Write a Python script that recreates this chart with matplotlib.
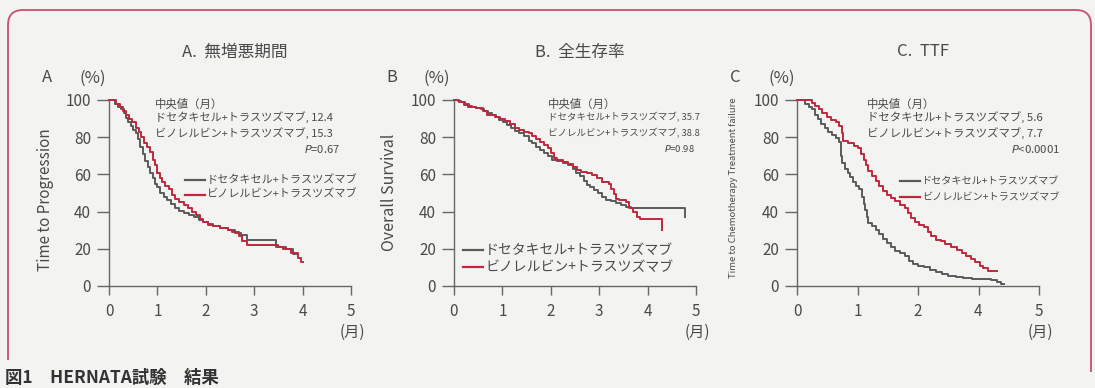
import matplotlib
matplotlib.use("Agg")
import matplotlib.pyplot as plt
from matplotlib.lines import Line2D
from matplotlib.path import Path
from matplotlib.patches import PathPatch

plt.rcParams['font.family'] = ['Noto Sans CJK JP', 'DejaVu Sans']

W, H = 1095, 388
BG = '#f3f3f1'
GRAY = '#5a5a5a'
RED = '#c0283c'
TXT = '#4a4a4a'

# ---- data ----
a_doc_t = [0, 0.12, 0.18, 0.24, 0.30, 0.35, 0.40, 0.45, 0.50, 0.55, 0.60, 0.65, 0.70, 0.75,
           0.80, 0.85, 0.90, 0.95, 1.00, 1.06, 1.13, 1.20, 1.28, 1.36, 1.45, 1.55, 1.65, 1.75,
           1.85, 1.95, 2.05, 2.15, 2.30, 2.45, 2.60, 2.72, 2.85, 3.46, 3.65, 3.80, 3.88]
a_doc_s = [100, 98, 96, 95, 93, 90.5, 88, 86, 84, 82, 79, 75, 71, 67,
           64, 61, 58, 55, 53, 50, 48, 46, 44, 42, 40.5, 39, 38, 37,
           35.5, 34.5, 33.5, 32.5, 31, 30, 28.5, 27.5, 25, 21, 20, 17, 17]
a_vin_t = [0, 0.15, 0.22, 0.28, 0.36, 0.42, 0.48, 0.55, 0.61, 0.66, 0.72, 0.78, 0.84, 0.90,
           0.95, 1.00, 1.05, 1.10, 1.16, 1.24, 1.30, 1.36, 1.45, 1.55, 1.64, 1.72, 1.80, 1.87,
           1.95, 2.05, 2.15, 2.30, 2.45, 2.55, 2.68, 2.75, 2.85, 3.50, 3.60, 3.75, 3.90, 3.97, 4.00]
a_vin_s = [100, 98, 96, 94, 92, 90, 88, 85, 83, 80, 77, 75, 72, 68,
           65, 61, 58, 56, 54, 52, 49, 47, 45, 43.5, 42, 40, 38, 36,
           34.5, 33, 32, 31, 30, 29, 27, 24, 22, 21, 20, 18, 15, 13, 13]

b_doc_t = [0, 0.08, 0.15, 0.22, 0.30, 0.38, 0.45, 0.55, 0.62, 0.70, 0.78, 0.86, 0.94, 1.02,
           1.10, 1.18, 1.26, 1.34, 1.45, 1.55, 1.62, 1.70, 1.78, 1.86, 1.95, 2.03, 2.12, 2.25,
           2.35, 2.45, 2.52, 2.60, 2.68, 2.75, 2.82, 2.90, 2.98, 3.06, 3.15, 3.25, 3.35, 3.45,
           3.55, 3.65, 4.78, 4.78]
b_doc_s = [100, 99.5, 99, 98, 97, 96.5, 95.5, 95, 94, 93, 92, 91, 89.5, 88,
           86.5, 85, 83.5, 82, 80.5, 78, 77, 75, 73, 71.5, 70, 68, 67, 66,
           65, 63, 61, 59, 56.5, 54.5, 53, 51.5, 50, 48, 46.5, 45.5, 44.5, 43.5,
           42.5, 42, 42, 37]
b_vin_t = [0, 0.10, 0.20, 0.28, 0.45, 0.60, 0.68, 0.85, 0.95, 1.05, 1.15, 1.25, 1.35, 1.45,
           1.55, 1.62, 1.70, 1.78, 1.86, 1.94, 2.00, 2.06, 2.12, 2.25, 2.35, 2.45, 2.55, 2.62,
           2.75, 2.85, 2.95, 3.05, 3.20, 3.25, 3.30, 3.35, 3.40, 3.55, 3.62, 3.70, 3.78, 3.85, 4.30]
b_vin_s = [100, 99, 97.5, 96, 95.5, 94, 92, 91, 90, 88.5, 87, 85, 84, 83,
           82, 80.5, 79, 77.5, 76, 74, 71.5, 69, 67.5, 66.5, 65.5, 64, 62.5, 61.5,
           61, 59.5, 58, 56, 55, 52, 49.5, 47, 46, 45, 42, 40, 37, 36, 30]

# panel C is drawn against its printed axis: 5 equal steps labelled 0,1,2,4,5
c_ticklabels = ['0', '1', '2', '4', '5']
c_doc_t = [0, 0.13, 0.20, 0.24, 0.30, 0.35, 0.40, 0.46, 0.52, 0.58, 0.64, 0.70, 0.73, 0.75,
           0.79, 0.84, 0.88, 0.93, 0.98, 1.03, 1.08, 1.10, 1.12, 1.15, 1.18, 1.24, 1.30, 1.36,
           1.42, 1.48, 1.55, 1.62, 1.70, 1.78, 1.85, 1.92, 2.00, 2.10, 2.20, 2.30, 2.40, 2.50,
           2.62, 2.75, 2.90, 3.05, 3.20, 3.30, 3.38, 3.42]
c_doc_s = [100, 98, 96, 95, 92, 90, 87, 85, 83, 81, 79.5, 77.5, 70, 66,
           63, 61, 58.5, 56, 54, 52, 48, 44, 41, 37, 34, 32, 30, 28,
           25.5, 23, 21, 19, 17.5, 16, 13.5, 12, 11, 10, 8.5, 7.5, 6.5, 5.5,
           5, 4.5, 4, 3.5, 3, 2, 1, 1]
c_vin_t = [0, 0.24, 0.30, 0.36, 0.42, 0.50, 0.56, 0.64, 0.70, 0.74, 0.76, 0.85, 0.95, 1.00,
           1.05, 1.10, 1.14, 1.18, 1.24, 1.30, 1.36, 1.42, 1.48, 1.55, 1.62, 1.70, 1.78, 1.84,
           1.88, 1.95, 2.02, 2.10, 2.16, 2.22, 2.30, 2.38, 2.45, 2.55, 2.65, 2.72, 2.80, 2.88,
           2.95, 3.02, 3.08, 3.15, 3.30]
c_vin_s = [100, 98.5, 97, 95, 93, 91, 89, 88, 86, 82, 78, 77, 75.5, 74,
           71, 68, 65, 62, 59, 56.5, 54, 51, 49, 47.5, 45.5, 43.5, 42, 39,
           36.5, 34.5, 33, 31.5, 29, 27, 25, 24, 22.5, 21, 19.5, 18, 16, 14.5,
           13, 11, 9.5, 8, 8]

doc_name = 'ドセタキセル+トラスツズマブ'
vin_name = 'ビノレルビン+トラスツズマブ'
titles = ['A.  無増悪期間', 'B.  全生存率', 'C.  TTF']
letters = ['A', 'B', 'C']
ylabels = ['Time to Progression', 'Overall Survival', 'Time to Chemotherapy Treatment failure']
medians = [('12.4', '15.3', '=0.67'), ('35.7', '38.8', '=0.98'), ('5.6', '7.7', '<0.0001')]


def fx(x):
    return x / W


def fy(y):
    return 1 - y / H


fig = plt.figure(figsize=(W / 100, H / 100), dpi=100, facecolor=BG)

# rounded frame (open at the bottom)
r = 15
verts = [(8, 360), (8, 10 + r), (8, 10), (8 + r, 10), (1091 - r, 10), (1091, 10),
         (1091, 10 + r), (1091, 372)]
codes = [Path.MOVETO, Path.LINETO, Path.CURVE3, Path.CURVE3, Path.LINETO, Path.CURVE3,
         Path.CURVE3, Path.LINETO]
frame = Path([(fx(x), fy(y)) for x, y in verts], codes)
fig.add_artist(PathPatch(frame, fill=False, edgecolor='#c8506e', lw=1.3,
                         transform=fig.transFigure))

panels = [
    dict(left=109, xmax=5, ticks=[0, 1, 2, 3, 4, 5], labels=None,
         doc=(a_doc_t, a_doc_s), vin=(a_vin_t, a_vin_s)),
    dict(left=454, xmax=5, ticks=[0, 1, 2, 3, 4, 5], labels=None,
         doc=(b_doc_t, b_doc_s), vin=(b_vin_t, b_vin_s)),
    dict(left=797, xmax=4, ticks=[0, 1, 2, 3, 4], labels=c_ticklabels,
         doc=(c_doc_t, c_doc_s), vin=(c_vin_t, c_vin_s)),
]

for i, p in enumerate(panels):
    ax = fig.add_axes([fx(p['left']), fy(286), 242 / W, 186 / H])
    ax.set_facecolor('none')
    ax.plot(*p['doc'], drawstyle='steps-post', color=GRAY, lw=1.4, clip_on=False)
    ax.plot(*p['vin'], drawstyle='steps-post', color=RED, lw=1.4, clip_on=False)
    ax.set_xlim(0, p['xmax'])
    ax.set_ylim(0, 100)
    ax.set_xticks(p['ticks'])
    if p['labels']:
        ax.set_xticklabels(p['labels'])
    ax.set_yticks([0, 20, 40, 60, 80, 100])
    for s in ['top', 'right']:
        ax.spines[s].set_visible(False)
    for s in ['left', 'bottom']:
        ax.spines[s].set_color('#666666')
        ax.spines[s].set_linewidth(1.0)
    ax.tick_params(axis='y', length=9, width=1, pad=4, labelsize=11, colors='#666666',
                   labelcolor=TXT)
    ax.tick_params(axis='x', length=6.5, width=1, pad=6, labelsize=11, colors='#666666',
                   labelcolor=TXT)

# titles, letters, units
title_x = [235, 580, 923]
for i in range(3):
    fig.text(fx(title_x[i]), fy(52), titles[i], ha='center', va='center', fontsize=12, color=TXT)
letter_x = [47, 392, 735]
pct_x = [93, 437, 782]
for i in range(3):
    fig.text(fx(letter_x[i]), fy(78), letters[i], ha='center', va='center', fontsize=12, color=TXT)
    fig.text(fx(pct_x[i]), fy(78), '(%)', ha='center', va='center', fontsize=12, color=TXT)
month_x = [352, 697, 1040]
for x in month_x:
    fig.text(fx(x), fy(332), '(月)', ha='center', va='center', fontsize=11, color=TXT)

# y labels
fig.text(fx(45), fy(200), ylabels[0], rotation=90, ha='center', va='center', fontsize=11, color=TXT)
fig.text(fx(390), fy(192), ylabels[1], rotation=90, ha='center', va='center', fontsize=11.5, color=TXT)
fig.text(fx(733), fy(188), ylabels[2], rotation=90, ha='center', va='center', fontsize=6.8, color=TXT)

# median annotations
blocks = [dict(x=155, xr=340, fs=8.0), dict(x=548, xr=695, fs=6.8), dict(x=867, xr=1060, fs=8.2)]
for i, b in enumerate(blocks):
    m1, m2, pv = medians[i]
    fig.text(fx(b['x']), fy(104), '中央値（月）', ha='left', va='center', fontsize=8.2, color=TXT)
    fig.text(fx(b['x']), fy(117), f'{doc_name}, {m1}', ha='left', va='center', fontsize=b['fs'], color=TXT)
    fig.text(fx(b['x']), fy(133), f'{vin_name}, {m2}', ha='left', va='center', fontsize=b['fs'], color=TXT)
    fig.text(fx(b['xr']), fy(149), r'$\mathit{P}$' + pv, ha='right', va='center',
             fontsize=b['fs'], color=TXT)

# legends
legs = [dict(x0=185, x1=205, y=(180, 195), fs=8.0),
        dict(x0=463, x1=483, y=(250, 267), fs=10.0),
        dict(x0=900, x1=920, y=(181, 197), fs=7.3)]
for lg in legs:
    for yy, col, name in [(lg['y'][0], GRAY, doc_name), (lg['y'][1], RED, vin_name)]:
        fig.add_artist(Line2D([fx(lg['x0']), fx(lg['x1'])], [fy(yy), fy(yy)], color=col, lw=1.6,
                              transform=fig.transFigure))
        fig.text(fx(lg['x1'] + 2), fy(yy), name, ha='left', va='center', fontsize=lg['fs'], color=TXT)

# caption at the foot of the figure
fig.text(fx(5), fy(369), '図1　HERNATA試験　結果', ha='left', va='top', fontsize=12.5,
         fontweight='bold', color='#333333')

fig.savefig('out.png', dpi=100, facecolor=BG)
